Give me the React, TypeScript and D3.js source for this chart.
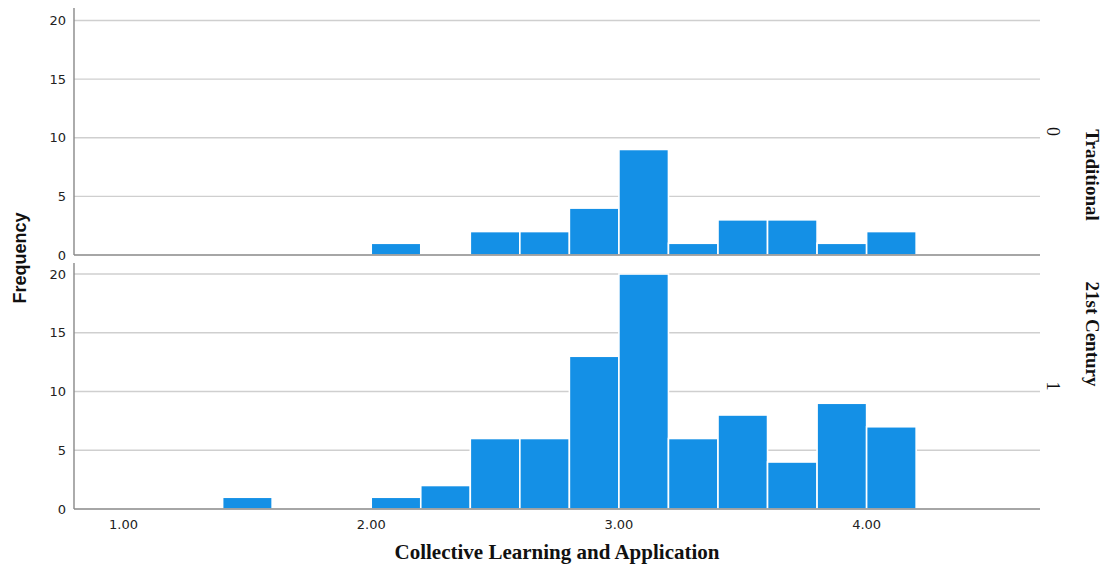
import React from "react";
import * as d3 from "d3";

// Histogram bins (lower edges, width 0.2) and counts per group
const binStarts = [1.4, 1.6, 1.8, 2.0, 2.2, 2.4, 2.6, 2.8, 3.0, 3.2, 3.4, 3.6, 3.8, 4.0];
const traditionalCounts = [0, 0, 0, 1, 0, 2, 2, 4, 9, 1, 3, 3, 1, 2];
const century21Counts = [1, 0, 0, 1, 2, 6, 6, 13, 20, 6, 8, 4, 9, 7];
const binWidth = 0.2;

const yTicks = [0, 5, 10, 15, 20];
const xTicks = [1, 2, 3, 4];

const panels = [
  { code: "0", label: "Traditional", counts: traditionalCounts, top: 20.5, bottom: 255, axisTop: 8, labelY: 175 },
  { code: "1", label: "21st Century", counts: century21Counts, top: 274, bottom: 509, axisTop: 263, labelY: 334 },
];

const W = 1103;
const H = 564;
const left = 74;
const right = 1040;

export default function App() {
  const x = d3.scaleLinear().domain([0.8, 4.7]).range([left, right]);
  const sans = "'DejaVu Sans', Verdana, sans-serif";
  const serif = "'Liberation Serif', 'Times New Roman', serif";

  return (
    <svg width={W} height={H} style={{ position: "absolute", left: 0, top: 0, background: "#fff" }}>
      {panels.map((p) => {
        const y = d3.scaleLinear().domain([0, 20]).range([p.bottom, p.top]);
        const mid = (p.axisTop + p.bottom) / 2;
        return (
          <g key={p.code}>
            {yTicks.map((t) =>
              t === 0 ? null : (
                <line key={t} x1={left} x2={right} y1={y(t)} y2={y(t)} stroke="#cfcfcf" strokeWidth={1.4} />
              )
            )}
            {yTicks.map((t) => (
              <text key={"l" + t} x={66} y={y(t)} dy="0.35em" textAnchor="end" fontFamily={sans} fontSize={13} fill="#222">
                {t}
              </text>
            ))}
            {binStarts.map((b, i) =>
              p.counts[i] > 0 ? (
                <rect
                  key={b}
                  x={x(b)}
                  y={y(p.counts[i])}
                  width={x(b + binWidth) - x(b)}
                  height={y(0) - y(p.counts[i])}
                  fill="#1490e6"
                  stroke="#ffffff"
                  strokeWidth={1.6}
                />
              ) : null
            )}
            <line x1={left} x2={right} y1={p.bottom} y2={p.bottom} stroke="#888" strokeWidth={1.4} />
            <line x1={left} x2={left} y1={p.axisTop} y2={p.bottom} stroke="#888" strokeWidth={1.4} />
            <text
              transform={`translate(1053, ${mid}) rotate(90)`}
              textAnchor="middle"
              dy="0.35em"
              fontFamily={serif}
              fontSize={18}
              fill="#111"
            >
              {p.code}
            </text>
            <text
              transform={`translate(1093, ${p.labelY}) rotate(90)`}
              textAnchor="middle"
              dy="0.35em"
              fontFamily={serif}
              fontWeight="bold"
              fontSize={19}
              fill="#111"
            >
              {p.label}
            </text>
          </g>
        );
      })}
      {xTicks.map((t) => (
        <text key={t} x={x(t)} y={524} dy="0.35em" textAnchor="middle" fontFamily={sans} fontSize={13} fill="#222">
          {d3.format(".2f")(t)}
        </text>
      ))}
      <text
        transform="translate(20, 258) rotate(-90)"
        textAnchor="middle"
        dy="0.35em"
        fontFamily="'Liberation Sans', Arial, sans-serif"
        fontWeight="bold"
        fontSize={18}
        fill="#111"
      >
        Frequency
      </text>
      <text x={557} y={552} dy="0.35em" textAnchor="middle" fontFamily={serif} fontWeight="bold" fontSize={21} fill="#111">
        Collective Learning and Application
      </text>
    </svg>
  );
}
